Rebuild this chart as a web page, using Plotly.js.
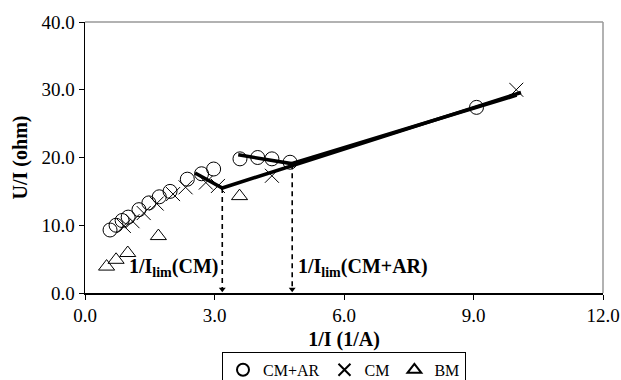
<!DOCTYPE html>
<html><head><meta charset="utf-8">
<script src="https://cdn.plot.ly/plotly-3.0.1.min.js"></script>
<style>html,body{margin:0;padding:0;background:#fff}#chart{width:621px;height:380px}</style>
</head><body><div id="chart"></div>
<script>
// CM+AR (circles)
const cmarX = [0.58,0.72,0.86,1.0,1.25,1.48,1.72,1.97,2.37,2.7,2.98,3.59,4.0,4.33,4.75,9.07];
const cmarY = [9.3,10.0,10.7,11.2,12.3,13.3,14.2,15.0,16.8,17.6,18.3,19.8,20.0,19.8,19.3,27.4];
// CM (crosses)
const cmX = [0.9,1.1,1.36,1.66,2.04,2.33,2.8,3.08,4.33,9.99];
const cmY = [9.9,10.6,11.8,13.2,14.6,15.6,16.3,15.8,17.3,30.0];
// BM (triangles)
const bmX = [0.5,0.72,0.99,1.70,3.58];
const bmY = [3.9,4.9,5.9,8.4,14.3];
// fitted lines
const fitCMX = [2.55,3.18,10.1];
const fitCMY = [17.7,15.5,29.6];
const fitCMARX = [3.55,4.78,10.0];
const fitCMARY = [20.4,19.1,29.2];
// limiting current markers
const limX = [3.18,4.80];
const limTop = [15.5,19.0];
const limLabels = ['1/I<sub>lim</sub>(CM)','1/I<sub>lim</sub>(CM+AR)'];
const legendNames = ['CM+AR','CM','BM'];

const font = 'Liberation Serif';
const mk = {color:'black', line:{color:'black', width:1}};

const traces = [
  {x:fitCMX, y:fitCMY, mode:'lines', line:{color:'black', width:3.5}, showlegend:false, hoverinfo:'skip'},
  {x:fitCMARX, y:fitCMARY, mode:'lines', line:{color:'black', width:3.5}, showlegend:false, hoverinfo:'skip'},
  {x:cmarX, y:cmarY, mode:'markers', name:legendNames[0], marker:Object.assign({}, mk, {symbol:'circle-open', size:14})},
  {x:cmX, y:cmY, mode:'markers', name:legendNames[1], marker:Object.assign({}, mk, {symbol:'x-thin-open', size:14})},
  {x:bmX, y:bmY, mode:'markers', name:legendNames[2], marker:Object.assign({}, mk, {symbol:'triangle-up-open', size:14})}
];
limX.forEach((lx,i)=>{
  traces.push({x:[lx,lx], y:[limTop[i],0.6], mode:'lines', line:{color:'black', width:1.6, dash:'5px,4px'}, showlegend:false, hoverinfo:'skip'});
});
traces.push({x:limX, y:limX.map(()=>0.55), mode:'markers', marker:{symbol:'triangle-down', size:6, color:'black'}, showlegend:false, hoverinfo:'skip'});

const annotations = [
  {x:limX[0], y:3.8, xref:'x', yref:'y', xanchor:'right', yanchor:'middle', xshift:-2, text:'<b>'+limLabels[0]+'</b>', showarrow:false, font:{family:font, size:20, color:'black'}},
  {x:limX[1], y:3.8, xref:'x', yref:'y', xanchor:'left', yanchor:'middle', xshift:4, text:'<b>'+limLabels[1]+'</b>', showarrow:false, font:{family:font, size:20, color:'black'}}
];

const layout = {
  width:621, height:380,
  margin:{l:85, r:18, t:22, b:87},
  paper_bgcolor:'white', plot_bgcolor:'white',
  font:{family:font, size:19, color:'black'},
  showlegend:true,
  legend:{orientation:'h', x:0.5, xanchor:'center', xref:'paper', yref:'container', y:0.074, yanchor:'top',
          bordercolor:'black', borderwidth:1, font:{family:font, size:16, color:'black'},
          itemwidth:30, tracegroupgap:0, valign:'middle', itemsizing:'constant'},
  xaxis:{range:[0,12], dtick:3, tick0:0, tickformat:'.1f', showgrid:false, zeroline:false,
         showline:true, linecolor:'black', linewidth:1.5, ticks:'outside', ticklen:5, tickcolor:'black',
         automargin:false, tickfont:{family:font, size:19},
         title:{text:'<b>1/I (1/A)</b>', font:{family:font, size:20}, standoff:6}},
  yaxis:{range:[0,40], dtick:10, tick0:0, tickformat:'.1f', showgrid:false, zeroline:false,
         showline:true, linecolor:'black', linewidth:1.5, ticks:'outside', ticklen:5, tickcolor:'black',
         automargin:false, tickfont:{family:font, size:19},
         title:{text:'<b>U/I (ohm)</b>', font:{family:font, size:20}, standoff:8}},
  shapes:[
    {type:'line', xref:'paper', yref:'paper', x0:0, x1:1, y0:1, y1:1, line:{color:'#999', width:1.5}},
    {type:'line', xref:'paper', yref:'paper', x0:1, x1:1, y0:0, y1:1, line:{color:'#999', width:1.5}}
  ],
  annotations:annotations
};
Plotly.newPlot('chart', traces, layout, {staticPlot:true, displayModeBar:false});
</script></body></html>
